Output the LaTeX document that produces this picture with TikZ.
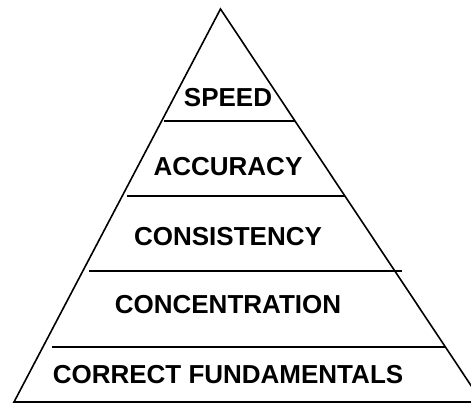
\documentclass[tikz,border=0pt]{standalone}
\usepackage{fontspec}
\setmainfont{Liberation Sans}
\usepackage{tikz}

\begin{document}
\begin{tikzpicture}[x=1pt, y=-1pt, line width=1.6pt, every node/.style={font=\fontsize{26}{30}\selectfont\bfseries, inner sep=0pt}]
    \useasboundingbox (0,0) rectangle (471,404);
    \clip (0,0) rectangle (471,404);
    % Pyramid outline
    \coordinate (apex) at (220.5,9);
    \coordinate (base-l) at (14,402);
    \coordinate (base-r) at (482,402);
    \draw[line join=miter] (apex) -- (base-l) -- (base-r) -- cycle;

    % Level dividers
    \draw (164,121) -- (295,121);
    \draw (127,196) -- (345,196);
    \draw (89,271) -- (402,271);
    \draw (52,347) -- (445,347);

    % Level labels
    \node (speed) at (228,98) {SPEED};
    \node (accuracy) at (228,167) {ACCURACY};
    \node (consistency) at (228,237) {CONSISTENCY};
    \node (concentration) at (228,305) {CONCENTRATION};
    \node (fundamentals) at (228,375) {CORRECT FUNDAMENTALS};
\end{tikzpicture}
\end{document}
